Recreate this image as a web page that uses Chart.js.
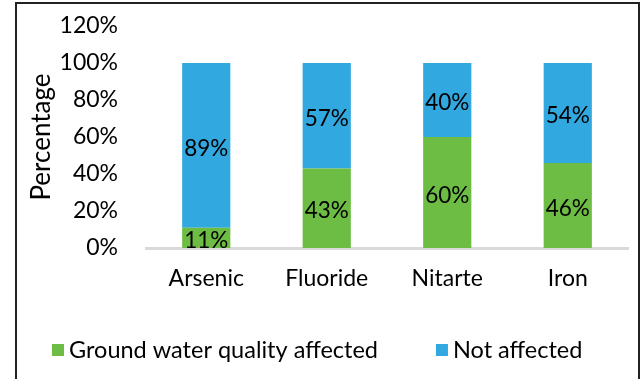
<!DOCTYPE html>
<html>
<head>
<meta charset="utf-8">
<script src="https://cdn.jsdelivr.net/npm/chart.js@4.4.1/dist/chart.umd.min.js"></script>
<style>
  html, body { margin: 0; padding: 0; background: #fff; overflow: hidden; }
  #wrap { position: relative; width: 643px; height: 379px; }
  #wrap canvas { position: absolute; left: 0; top: 0; }
  #frame {
    position: absolute; left: 15px; top: 2px; width: 625px; height: 400px;
    border: 2px solid #222; border-bottom: none; box-sizing: border-box; pointer-events: none;
  }
</style>
</head>
<body>
<div id="wrap">
  <canvas id="chart" width="643" height="379"></canvas>
  <div id="frame"></div>
</div>
<script>
// data
const categories  = ['Arsenic', 'Fluoride', 'Nitarte', 'Iron'];
const affected    = [11, 43, 60, 46];
const notAffected = [89, 57, 40, 54];
const seriesNames = ['Ground water quality affected', 'Not affected'];
const yTicks      = [0, 20, 40, 60, 80, 100, 120];

const FONT = 'Lato, "Open Sans", sans-serif';
const GREEN = '#6dbd45';
const BLUE  = '#32a8e0';

// value labels in the middle of every segment
const segmentLabels = {
  id: 'segmentLabels',
  afterDatasetsDraw(chart) {
    const ctx = chart.ctx;
    ctx.save();
    ctx.font = '22.5px ' + FONT;
    ctx.fillStyle = '#000';
    ctx.textAlign = 'center';
    ctx.textBaseline = 'middle';
    chart.data.datasets.forEach((ds, i) => {
      chart.getDatasetMeta(i).data.forEach((bar, j) => {
        ctx.fillText(ds.data[j] + '%', bar.x, (bar.y + bar.base) / 2 + 3);
      });
    });
    ctx.restore();
  }
};

// legend drawn under the plot
const bottomLegend = {
  id: 'bottomLegend',
  afterDraw(chart) {
    const ctx = chart.ctx;
    ctx.save();
    ctx.font = '23.5px ' + FONT;
    ctx.textBaseline = 'middle';
    let x = 52;
    const y = 350;
    chart.data.datasets.forEach(ds => {
      ctx.fillStyle = ds.backgroundColor;
      ctx.fillRect(x, y - 6, 12, 12);
      ctx.fillStyle = '#000';
      ctx.fillText(ds.label, x + 17, y);
      x += 17 + ctx.measureText(ds.label).width + 58;
    });
    ctx.restore();
  }
};

new Chart(document.getElementById('chart'), {
  type: 'bar',
  data: {
    labels: categories,
    datasets: [
      { label: seriesNames[0], data: affected, backgroundColor: GREEN },
      { label: seriesNames[1], data: notAffected, backgroundColor: BLUE }
    ]
  },
  options: {
    responsive: false,
    animation: false,
    layout: { padding: { left: 22, right: 15, top: 26, bottom: 87 } },
    datasets: { bar: { categoryPercentage: 0.8, barPercentage: 0.5 } },
    plugins: { legend: { display: false }, tooltip: { enabled: false } },
    scales: {
      x: {
        stacked: true,
        grid: { display: false, drawTicks: false },
        border: { display: true, color: '#d9d9d9', width: 3 },
        ticks: { color: '#000', font: { family: FONT, size: 23 }, padding: 17 },
        afterFit: s => { s.height = 44; }
      },
      y: {
        stacked: true,
        min: 0,
        max: 120,
        afterBuildTicks: s => { s.ticks = yTicks.map(v => ({ value: v })); },
        grid: { display: false, drawTicks: false },
        border: { display: false },
        ticks: { color: '#000', font: { family: FONT, size: 23 }, padding: 28, callback: v => v + '%' },
        title: { display: true, text: 'Percentage', color: '#000', font: { family: FONT, size: 26 }, padding: { top: 4, bottom: 4 } },
        afterFit: s => { s.width = 124; s.paddingTop = 0; s.paddingBottom = 0; }
      }
    }
  },
  plugins: [segmentLabels, bottomLegend]
});
</script>
</body>
</html>
